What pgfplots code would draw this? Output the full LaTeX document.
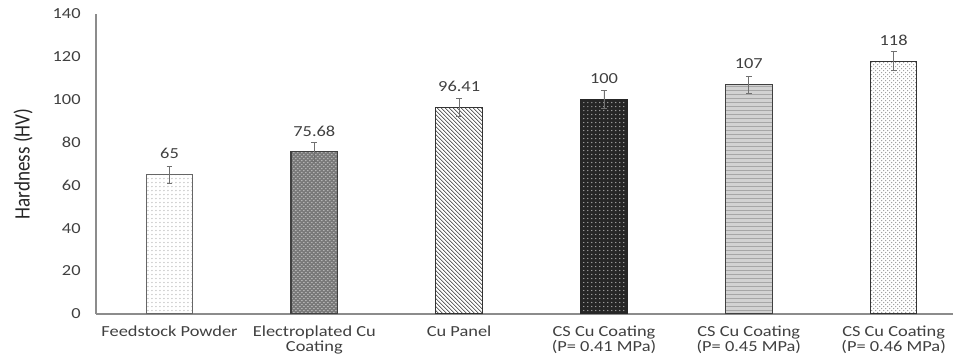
\documentclass[border=0pt]{standalone}
\usepackage{pgfplots}
\pgfplotsset{compat=1.18}
\usepackage{fontspec}
\setmainfont[FakeStretch=1.2]{Carlito}
\newfontfamily\ylab[FakeStretch=0.87]{Carlito}
\usetikzlibrary{patterns}
\definecolor{tickgray}{HTML}{404040}
\definecolor{axgray}{HTML}{8C8C8C}
\begin{document}
\begin{tikzpicture}
\begin{axis}[
  scale only axis, width=643pt, height=225pt,
  xmin=-0.508, xmax=5.41, ymin=0, ymax=140,
  ytick={0,20,...,140},
  xtick={0,...,5},
  xticklabels={Feedstock Powder, Electroplated Cu\\Coating, Cu Panel, CS Cu Coating\\(P= 0.41 MPa), CS Cu Coating\\(P= 0.45 MPa), CS Cu Coating\\(P= 0.46 MPa)},
  xticklabel style={align=center, font=\fontsize{11.5}{11}\selectfont, text=tickgray, anchor=north, inner sep=0pt, yshift=-4.5pt},
  yticklabel style={font=\fontsize{11.5}{12}\selectfont, text=tickgray, xshift=-8pt},
  /pgf/number format/assume math mode=true,
  axis x line*=bottom, axis y line*=left,
  axis line style={axgray, line width=1pt, -},
  tick style={draw=none},
  ylabel={Hardness (HV)},
  ylabel style={at={(axis description cs:-0.085,0.5)}, anchor=center, font=\ylab\fontsize{16.5}{18}\selectfont, text=black!85},
  ybar, bar width=35pt, bar shift=0pt,
  point meta=explicit symbolic,
  nodes near coords,
  every node near coord/.append style={font=\fontsize{11.5}{12}\selectfont, text=tickgray, yshift=8pt},
  error bars/y dir=both, error bars/y explicit,
  error bars/error bar style={axgray!80!black, line width=0.6pt},
  error bars/error mark options={rotate=90, mark size=2.2pt, axgray!80!black, line width=0.6pt},
  clip=false,
]
\addplot[draw=gray!80!black, line width=0.8pt, fill=white, postaction={pattern=dots, pattern color=gray!60}]
  table[x=x, y=y, y error=e, meta=l, row sep=\\]{x y e l\\ 0 65 4 65\\};
\addplot[draw=gray!50!black, line width=0.8pt, fill=gray!95!black, postaction={pattern=crosshatch dots, pattern color=gray!35}]
  table[x=x, y=y, y error=e, meta=l, row sep=\\]{x y e l\\ 1 75.68 4.3 75.68\\};
\addplot[draw=black!80, line width=0.8pt, fill=white, postaction={pattern=north west lines, pattern color=black!80}]
  table[x=x, y=y, y error=e, meta=l, row sep=\\]{x y e l\\ 2 96.41 4 96.41\\};
\addplot[draw=black!85, line width=0.8pt, fill=black!85, postaction={pattern=dots, pattern color=gray!60}]
  table[x=x, y=y, y error=e, meta=l, row sep=\\]{x y e l\\ 3 100 4.3 100\\};
\addplot[draw=gray!50!black, line width=0.8pt, fill=gray!35, postaction={pattern=horizontal lines, pattern color=gray!70}]
  table[x=x, y=y, y error=e, meta=l, row sep=\\]{x y e l\\ 4 107 4 107\\};
\addplot[draw=black!80, line width=0.8pt, fill=white, postaction={pattern=crosshatch dots, pattern color=gray!80}]
  table[x=x, y=y, y error=e, meta=l, row sep=\\]{x y e l\\ 5 118 4.3 118\\};
\end{axis}
\pgfresetboundingbox
\useasboundingbox ([shift={(-72pt,10.5pt)}]current axis.north west) rectangle ([yshift=-30.5pt]current axis.south east);
\end{tikzpicture}
\end{document}
